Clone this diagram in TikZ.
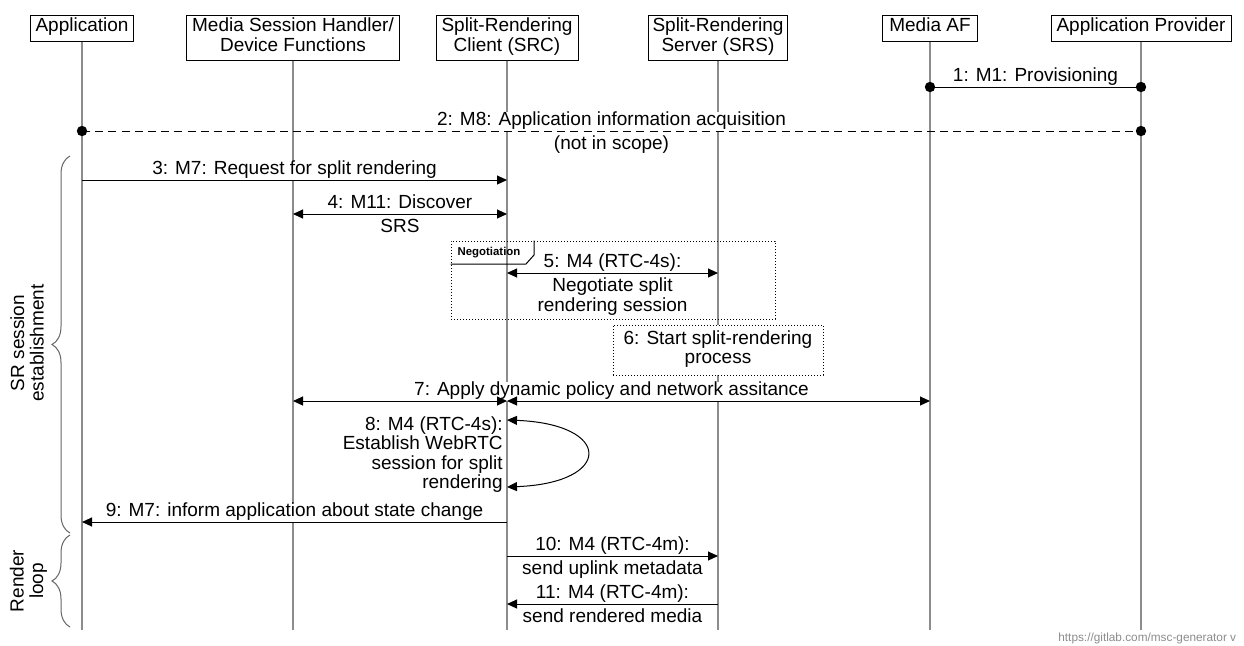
\documentclass[tikz,border=0pt]{standalone}
\usepackage{fontspec}
\setmainfont{Liberation Sans}
\usetikzlibrary{arrows.meta,decorations.pathreplacing}
\begin{document}
\begin{tikzpicture}[x=0.5pt,y=-0.5pt,
  txt/.style={font=\fontsize{9.5}{9.8}\selectfont, execute at begin node=\strut, execute at end node=\strut},
  head/.style={txt, draw=black, line width=0.5pt, fill=white, align=center, inner xsep=2pt, inner ysep=0pt},
  one/.style={minimum height=13pt},
  two/.style={minimum height=22.5pt},
  life/.style={draw=black!45, line width=0.8pt},
  msg/.style={draw=black, line width=0.5pt},
  tip/.style={-{Triangle[length=5pt,width=4.5pt]}},
  tipb/.style={{Triangle[length=5pt,width=4.5pt]}-{Triangle[length=5pt,width=4.5pt]}},
  lbl/.style={txt, fill=white, inner xsep=1pt, inner ysep=0pt, align=center},
  dotbox/.style={draw=black, line width=0.5pt, dash pattern=on 0.6pt off 0.9pt},
  brc/.style={draw=black!60, line width=0.5pt, decorate, decoration={brace, amplitude=9pt}},
]
\useasboundingbox (0,0) rectangle (1244,645);
\fill[white] (0,0) rectangle (1244,645);

% headers
\node[head,one,minimum width=51.5pt] (app) at (82,28) {Application};
\node[head,two,minimum width=106.5pt] (msh) at (293,37.5) {Media Session Handler/\\Device Functions};
\node[head,two,minimum width=71pt] (src) at (507,37.5) {Split-Rendering\\Client (SRC)};
\node[head,two,minimum width=68.5pt] (srs) at (718,37.5) {Split-Rendering\\Server (SRS)};
\node[head,one,minimum width=47.5pt] (maf) at (930,28) {Media AF};
\node[head,one,minimum width=90pt] (ap) at (1141,28) {Application Provider};

% lifelines
\foreach \n in {app,msh,src,srs,maf,ap}{
  \draw[life] (\n.south) -- (\n |- 0,630);
}

% braces
\draw[brc] (70,533) -- (70,156);
\draw[brc] (70,627) -- (70,535);
\node[txt, align=center, rotate=90, inner sep=0pt] (bt1) at (30,343) {SR session\\establishment};
\node[txt, align=center, rotate=90, inner sep=0pt] (bt2) at (29.5,581) {Render\\loop};

% negotiation box
\node[dotbox, minimum width=162pt, minimum height=39pt, inner sep=0pt] (neg) at (613,280) {};
\coordinate (tabc) at (534,255);
\draw[line width=0.5pt] (neg.west |- 0,264) -- (526,264) -- (tabc) -- (tabc |- neg.north);
\node[font=\fontsize{5.7}{6}\selectfont\bfseries, inner sep=0pt] (negl) at (489,253) {Negotiation};

% box 6
\node[dotbox, txt, fill=white, align=center, minimum width=105pt, minimum height=25pt, inner sep=0pt] (s6) at (718,350) {6: Start split-rendering\\process};

% labels
\node[lbl] (l1) at (1035.5,77.6) {1: M1: Provisioning};
\node[lbl] (l2a) at (611.5,121.6) {2: M8: Application information acquisition};
\node[lbl] (l2b) at (611.5,145.6) {(not in scope)};
\node[lbl] (l3) at (294.5,170.6) {3: M7: Request for split rendering};
\node[lbl] (l4a) at (400,204.6) {4: M11: Discover};
\node[lbl] (l4b) at (400,228.6) {SRS};
\node[lbl] (l5a) at (612.5,263.6) {5: M4 (RTC-4s):};
\node[lbl] (l5b) at (612.5,297.6) {Negotiate split\\rendering session};
\node[lbl] (l7) at (611.5,391.6) {7: Apply dynamic policy and network assitance};
\node[lbl, align=right, anchor=east] (l8) at (505,455.6) {8: M4 (RTC-4s):\\Establish WebRTC\\session for split\\rendering};
\node[lbl] (l9) at (294.5,512.6) {9: M7: inform application about state change};
\node[lbl] (l10a) at (612.5,546.6) {10: M4 (RTC-4m):};
\node[lbl] (l10b) at (612.5,570.6) {send uplink metadata};
\node[lbl] (l11a) at (612.5,594.6) {11: M4 (RTC-4m):};
\node[lbl] (l11b) at (612.5,618.6) {send rendered media};

% messages
\draw[msg] (maf |- 0,87) -- (ap |- 0,87);
\fill (maf |- 0,87) circle (2.6pt);
\fill (ap |- 0,87) circle (2.6pt);

\draw[msg, dash pattern=on 4pt off 2.6pt] (app |- 0,131) -- (ap |- 0,131);
\fill (app |- 0,131) circle (2.6pt);
\fill (ap |- 0,131) circle (2.6pt);

\draw[msg,tip] (app |- 0,180) -- (src |- 0,180);
\draw[msg,tipb] (msh |- 0,214) -- (src |- 0,214);
\draw[msg,tipb] (src |- 0,273) -- (srs |- 0,273);
\draw[msg,tipb] (msh |- 0,401) -- (src |- 0,401);
\draw[msg,tipb] (src |- 0,401) -- (maf |- 0,401);
\draw[msg,tipb] (src |- 0,420) .. controls (613,424) and (613,483) .. (src |- 0,487);
\draw[msg,tip] (src |- 0,522) -- (app |- 0,522);
\draw[msg,tip] (src |- 0,556) -- (srs |- 0,556);
\draw[msg,tip] (srs |- 0,604) -- (src |- 0,604);

% watermark
\node[font=\fontsize{5.9}{6.5}\selectfont, text=black!45, anchor=west, inner sep=0pt] (wm) at (1058,638) {https://gitlab.com/msc-generator v};
\end{tikzpicture}
\end{document}
